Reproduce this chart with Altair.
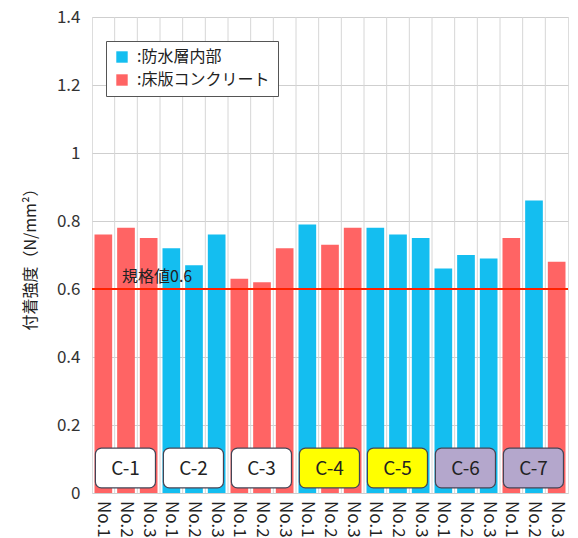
import altair as alt
import pandas as pd

groups = ["C-1", "C-2", "C-3", "C-4", "C-5", "C-6", "C-7"]
nos = ["No.1", "No.2", "No.3"]
values = [0.76, 0.78, 0.75,
          0.72, 0.67, 0.76,
          0.63, 0.62, 0.72,
          0.79, 0.73, 0.78,
          0.78, 0.76, 0.75,
          0.66, 0.70, 0.69,
          0.75, 0.86, 0.68]
S_BLUE = "防水層内部"
S_RED = "床版コンクリート"
series = [S_RED, S_RED, S_RED,
          S_BLUE, S_BLUE, S_BLUE,
          S_RED, S_RED, S_RED,
          S_BLUE, S_RED, S_RED,
          S_BLUE, S_BLUE, S_BLUE,
          S_BLUE, S_BLUE, S_BLUE,
          S_RED, S_BLUE, S_RED]
box_fills = ["#FFFFFF", "#FFFFFF", "#FFFFFF", "#FFFF00", "#FFFF00", "#B4A7CC", "#B4A7CC"]
standard_value = 0.6
standard_label = "規格値0.6"

FONT = "Noto Sans CJK JP"
H = 476

bars_df = pd.DataFrame({
    "i": list(range(len(values))),
    "v": values,
    "s": series,
    "no": [nos[k % 3] for k in range(len(values))],
})
bounds_df = pd.DataFrame({"i": list(range(len(values) - 1))})
groups_df = pd.DataFrame({"g": groups, "k": list(range(len(groups))), "fill": box_fills})

xscale = alt.Scale(domain=[-0.5, len(values) - 0.5], nice=False, zero=False)
yscale = alt.Scale(domain=[0, 1.4], nice=False)

x_axis = alt.Axis(values=list(range(len(values))), labels=False,
                  ticks=False, grid=False, domain=False, title=None)
y_axis = alt.Axis(values=[0, 0.2, 0.4, 0.6, 0.8, 1, 1.2, 1.4], format="~g",
                  labelFontSize=17, labelColor="#333", labelPadding=12,
                  ticks=False, domain=False, gridColor="#cfcfcf",
                  title="付着強度（N/mm²）", titleFontSize=16,
                  titleFontWeight="normal", titleColor="#222", titlePadding=18,
                  labelFont=FONT, titleFont=FONT)

base = alt.Chart(bars_df)

vgrid = alt.Chart(bounds_df).transform_calculate(b="datum.i + 0.5").mark_rule(
    color="#d6d6d6", strokeWidth=1).encode(
    x=alt.X("b:Q", scale=xscale, axis=x_axis))

bars = base.transform_calculate(x0="datum.i - 0.39", x1="datum.i + 0.39").mark_bar().encode(
    x=alt.X("x0:Q", scale=xscale, axis=x_axis),
    x2="x1:Q",
    y=alt.Y("v:Q", scale=yscale, axis=y_axis),
    y2=alt.datum(0),
    color=alt.Color("s:N",
                    scale=alt.Scale(domain=[S_BLUE, S_RED], range=["#14BEF0", "#FF6464"]),
                    legend=alt.Legend(orient="none", legendX=14, legendY=24,
                                      direction="vertical", title=None,
                                      fillColor="white", strokeColor="#555",
                                      padding=8, symbolType="square", symbolSize=130,
                                      symbolStrokeWidth=0, labelFontSize=16,
                                      labelColor="#222", labelFont=FONT,
                                      rowPadding=7, labelOffset=7,
                                      labelExpr="':' + datum.label")),
)

xlabels = base.mark_text(angle=90, align="left", baseline="middle", fontSize=17,
                         color="#222", font=FONT).encode(
    x=alt.X("i:Q", scale=xscale),
    y=alt.value(H + 8),
    text="no:N",
)

std_df = pd.DataFrame({"y": [standard_value], "t": [standard_label], "x": [1]})
std_rule = alt.Chart(std_df).mark_rule(color="#FF2200", strokeWidth=2).encode(
    y=alt.Y("y:Q", scale=yscale))
std_text = alt.Chart(std_df).mark_text(align="left", baseline="bottom", dx=-4, dy=-4,
                                       fontSize=16, color="#222", font=FONT).encode(
    x=alt.X("x:Q", scale=xscale), y=alt.Y("y:Q", scale=yscale), text="t:N")

boxes = alt.Chart(groups_df).transform_calculate(
    bx0="datum.k * 3 - 0.5 + 0.15", bx1="datum.k * 3 + 2.5 - 0.2"
).mark_rect(cornerRadius=6, stroke="#444455", strokeWidth=1.2).encode(
    x=alt.X("bx0:Q", scale=xscale),
    x2="bx1:Q",
    y=alt.datum(0.015, scale=yscale),
    y2=alt.datum(0.132),
    fill=alt.Color("fill:N", scale=None),
)
box_text = alt.Chart(groups_df).transform_calculate(
    xc="datum.k * 3 + 1 - 0.02"
).mark_text(fontSize=19, color="#222", font=FONT, baseline="middle").encode(
    x=alt.X("xc:Q", scale=xscale),
    y=alt.datum(0.072, scale=yscale),
    text="g:N",
)

chart = alt.layer(vgrid, bars, std_rule, std_text, boxes, box_text, xlabels).properties(
    width=476, height=H,
    autosize=alt.AutoSizeParams(type="none"),
    padding={"left": 92, "top": 17, "right": 10, "bottom": 45},
).configure_view(stroke="#b5b5b5", strokeWidth=1).configure(background="white")

chart.save("out.html", embed_options={"renderer": "svg", "actions": False})
